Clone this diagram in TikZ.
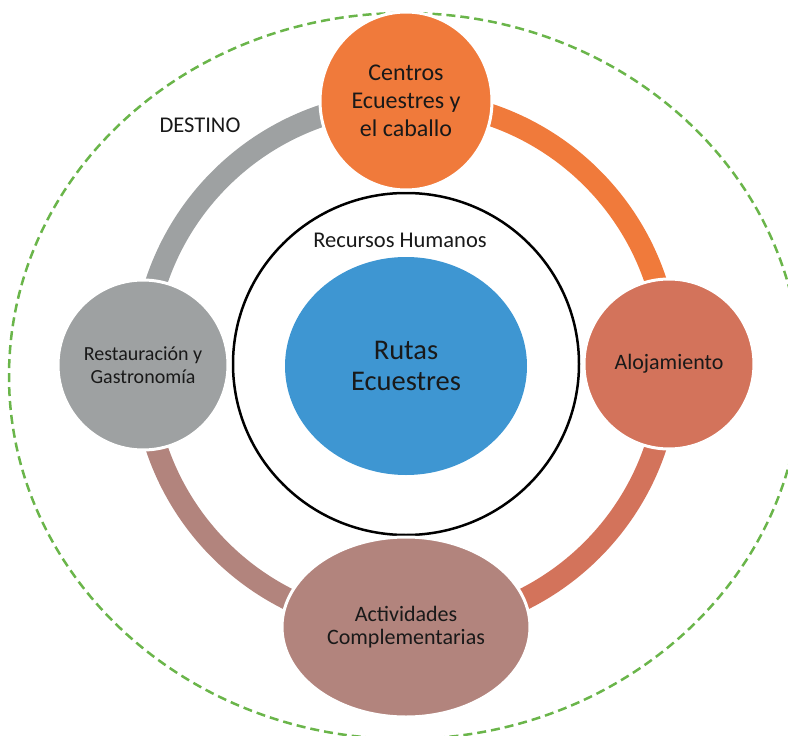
\documentclass[tikz,border=0pt]{standalone}
\usepackage{fontspec}
\setmainfont{Carlito}
\usetikzlibrary{shapes.geometric,backgrounds}
\definecolor{cOrange}{HTML}{F07A3B}
\definecolor{cAloja}{HTML}{D3735B}
\definecolor{cActiv}{HTML}{B2847D}
\definecolor{cGray}{HTML}{9EA1A2}
\definecolor{cBlue}{HTML}{3E96D2}
\definecolor{cGreen}{HTML}{6AB54A}
\begin{document}
\begin{tikzpicture}[x=1pt,y=-1pt,
  bubble/.style={draw=white, line width=3pt, inner sep=0pt, align=center, text=black!90},
  roundbubble/.style={bubble, circle, minimum size=170pt},
  ovalbubble/.style={bubble, ellipse},
  arcline/.style={line width=22pt},
  plainlabel/.style={inner sep=0pt, align=center, text=black!90}]
\useasboundingbox (0,0) rectangle (788,736);
% outer destination ellipse
\node[ellipse, draw=cGreen, line width=2.5pt, dash pattern=on 9pt off 5pt,
      minimum width=792pt, minimum height=726pt, inner sep=0pt] (destino) at (405,376) {};
\node[plainlabel, font=\fontsize{22.5}{25}\selectfont] (destinolbl) at (200,125) {DESTINO};
% inner human resources circle
\node[ellipse, draw=black, line width=2.5pt, minimum width=346pt, minimum height=342pt, inner sep=0pt] (rrhh) at (406,364) {};
\node[plainlabel, font=\fontsize{22.5}{25}\selectfont] (rrhhlbl) at (400,240) {Recursos Humanos};
% centre
\node[ellipse, fill=cBlue, inner sep=0pt, minimum width=242pt, minimum height=218pt, align=center,
      text=black!90, font=\fontsize{28.5}{31}\selectfont] (rutas) at (406,366) {Rutas\\Ecuestres};
% ring bubbles
\node[ovalbubble, fill=cOrange, minimum width=172pt, minimum height=178pt,
      font=\fontsize{24}{28}\selectfont] (centros) at (406,101) {Centros\\Ecuestres y\\el caballo};
\node[roundbubble, fill=cAloja, font=\fontsize{22}{25}\selectfont] (aloja) at (669,364) {Alojamiento};
\node[ovalbubble, fill=cActiv, minimum width=248pt, minimum height=180pt,
      font=\fontsize{22}{23}\selectfont] (activ) at (406,627) {Actividades\\Complementarias};
\node[roundbubble, fill=cGray, font=\fontsize{20}{23}\selectfont] (resta) at (143,365) {Restauración y\\Gastronomía};
% cycle arcs
\begin{scope}[on background layer]
\draw[arcline, draw=cOrange] (centros.center) arc[start angle=-90, end angle=0, radius=263];
\draw[arcline, draw=cAloja] (aloja.center) arc[start angle=0, end angle=90, radius=263];
\draw[arcline, draw=cActiv] (activ.center) arc[start angle=90, end angle=180, radius=263];
\draw[arcline, draw=cGray] (resta.center) arc[start angle=180, end angle=270, radius=263];
\end{scope}
\end{tikzpicture}
\end{document}
